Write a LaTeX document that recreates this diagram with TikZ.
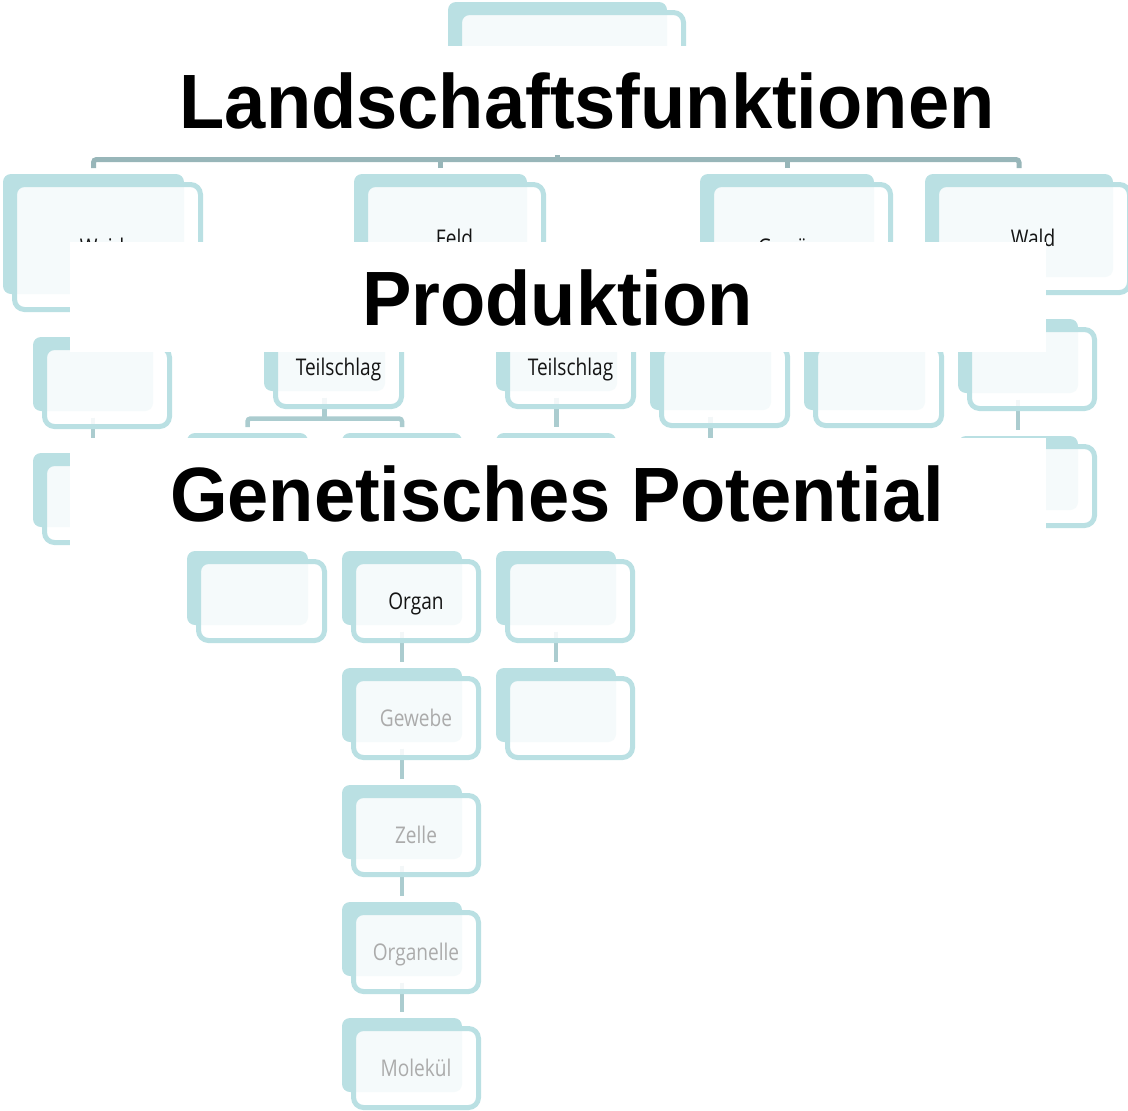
\documentclass[tikz,border=0pt]{standalone}
\usepackage{fontspec}
\usetikzlibrary{calc,backgrounds}

\newfontfamily\titlefont[FakeStretch=0.962]{Liberation Sans}
\newfontfamily\labfont[FakeStretch=0.83]{Open Sans}

\definecolor{boxteal}{HTML}{BAE0E3}
\definecolor{linkmain}{HTML}{98B6B9}
\definecolor{linksub}{HTML}{ABCCCF}
\definecolor{labgrey}{HTML}{ABABAB}
\definecolor{labdark}{HTML}{141414}

\tikzset{
  backbox/.style={shape=rectangle, fill=boxteal, rounded corners=8pt,
    inner sep=0pt, outer sep=0pt},
  frontbox/.style={shape=rectangle, draw=boxteal, line width=5pt,
    rounded corners=10pt, fill=white, fill opacity=0.86, text opacity=1,
    inner sep=0pt, outer sep=0pt,
    font=\labfont\fontsize{23}{27}\selectfont,
    text height=16.4pt, text depth=0pt, text=labdark},
  faded/.style={text=labgrey},
  linktop/.style={draw=linkmain, line width=5pt},
  linksub/.style={draw=linksub, line width=4.5pt},
  heading/.style={font=\titlefont\bfseries\fontsize{77}{80}\selectfont,
    inner sep=0pt, anchor=base, text=black}
}

% #1 name, #2..#5 corners of the back tile (x1,y1,x2,y2), #6 label, #7 label style
\newcommand\orgbox[7]{%
  \node[backbox, minimum width={(#4)-(#2)}, minimum height={(#5)-(#3)}]
    (#1) at ({((#2)+(#4))/2},{((#3)+(#5))/2}) {};
  \node[frontbox, minimum width={(#4)-(#2)+5}, minimum height={(#5)-(#3)+5}, #7]
    (#1-f) at ({((#2)+(#4))/2+14},{((#3)+(#5))/2+13}) {#6};
}
% straight link from a parent to its only child
\newcommand\vlink[3]{%
  \draw[#1] ($(#2.south)+(0,6.5)$) -- ($(#2.south |- #3.north)+(0,-6.5)$);}
% link from a parent to a row of children via a bar
\newcommand\barlink[4]{%
  \draw[#1] ($(#2.south)+(0,6.5)$) -- ($(#2.south |- #3.north)+(0,-14.5)$);
  \draw[#1, rounded corners=3pt] ($(#3.north)+(0,-6)$) -- ($(#3.north)+(0,-14.5)$)
    -| ($(#4.north)+(0,-6)$);}
\newcommand\droplink[2]{%
  \draw[#1] ($(#2.north)+(0,-6)$) -- ($(#2.north)+(0,-14.5)$);}

\begin{document}
\begin{tikzpicture}[x=1pt, y=-1pt]
\useasboundingbox (0,0) rectangle (1128,1111);

% root
\orgbox{root}{448}{2}{667}{122}{}{}
% landscape units
\orgbox{weide}{3}{174}{184}{294}{Weide}{}
\orgbox{feld}{354}{174}{527}{277}{Feld}{}
\orgbox{gew}{700}{174}{874}{294}{Gewässer}{}
\orgbox{wald}{925}{174}{1113}{277}{Wald}{}
% second row
\orgbox{weide2}{33}{337}{153}{411}{}{}
\orgbox{ts1}{264}{317}{385}{391}{Teilschlag}{}
\orgbox{ts2}{496}{317}{617}{391}{Teilschlag}{}
\orgbox{gew2a}{650}{336}{771}{410}{}{}
\orgbox{gew2b}{804}{336}{925}{410}{}{}
\orgbox{wald2}{958}{319}{1078}{393}{}{}
% third row
\orgbox{weide3}{33}{453}{153}{527}{}{}
\orgbox{ts1a}{187}{433}{308}{507}{}{}
\orgbox{ts1b}{342}{433}{462}{507}{}{}
\orgbox{ts2a}{496}{433}{616}{507}{}{}
\orgbox{gew3}{650}{453}{771}{527}{}{}
\orgbox{wald3}{958}{436}{1078}{510}{}{}
% plant levels
\orgbox{lvA}{187}{551}{308}{625}{}{}
\orgbox{organ}{342}{551}{462}{625}{Organ}{}
\orgbox{lvC}{496}{551}{616}{625}{}{}
\orgbox{gewebe}{342}{668}{462}{742}{Gewebe}{faded}
\orgbox{lvC2}{496}{668}{616}{742}{}{}
\orgbox{zelle}{342}{785}{462}{859}{Zelle}{faded}
\orgbox{organelle}{342}{902}{462}{976}{Organelle}{faded}
\orgbox{molekuel}{342}{1018}{462}{1092}{Molekül}{faded}

\begin{scope}[on background layer]
  \barlink{linktop}{root}{weide}{wald}
  \droplink{linktop}{feld}
  \droplink{linktop}{gew}
  \vlink{linksub}{weide}{weide2}
  \vlink{linksub}{weide2}{weide3}
  \barlink{linksub}{feld}{ts1}{ts2}
  \barlink{linksub}{gew}{gew2a}{gew2b}
  \vlink{linksub}{wald}{wald2}
  \vlink{linksub}{wald2}{wald3}
  \barlink{linksub}{ts1}{ts1a}{ts1b}
  \vlink{linksub}{ts2}{ts2a}
  \vlink{linksub}{gew2a}{gew3}
  \vlink{linksub}{ts1a}{lvA}
  \vlink{linksub}{ts1b}{organ}
  \vlink{linksub}{ts2a}{lvC}
  \vlink{linksub}{organ}{gewebe}
  \vlink{linksub}{lvC}{lvC2}
  \vlink{linksub}{gewebe}{zelle}
  \vlink{linksub}{zelle}{organelle}
  \vlink{linksub}{organelle}{molekuel}
\end{scope}

% white bands carrying the headings
\fill[white] (170,45.5) rectangle (1005,155);
\fill[white] (70,242) rectangle (1046,352);
\fill[white] (70,438) rectangle (1046,549);

\node[heading] (h-land) at (587,128) {Landschaftsfunktionen};
\node[heading] (h-prod) at (557.5,325) {Produktion};
\node[heading] (h-gen) at (557,521.5) {Genetisches Potential};
\end{tikzpicture}
\end{document}
